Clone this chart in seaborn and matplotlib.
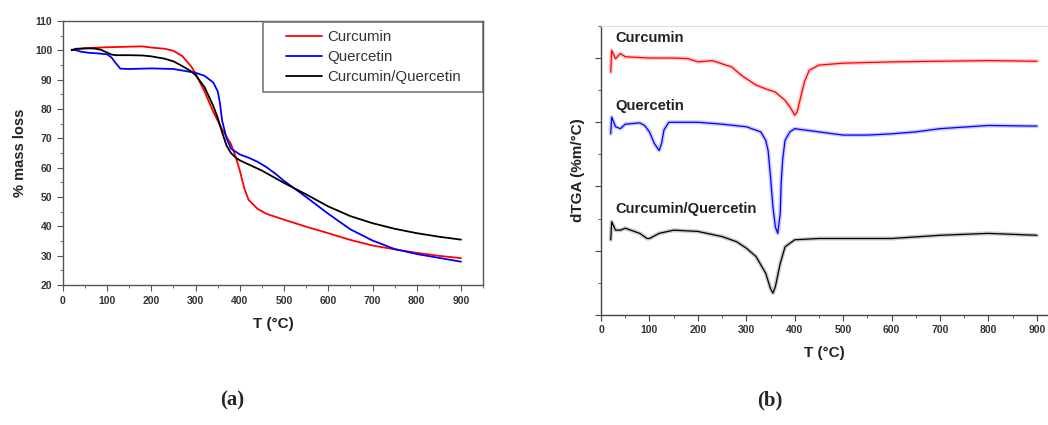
import numpy as np
import pandas as pd
import seaborn as sns
import matplotlib.pyplot as plt
from matplotlib.patches import Rectangle
from matplotlib.ticker import MultipleLocator

# --- (a) TGA curves, % mass vs temperature ---
cur_T = [20, 50, 100, 150, 180, 200, 230, 250, 270, 290, 300, 320, 340, 360, 380, 390, 400,
         410, 420, 440, 460, 500, 550, 600, 650, 700, 750, 800, 850, 900]
cur_m = [100, 100.7, 101, 101.2, 101.3, 100.9, 100.5, 99.8, 98, 94.5, 92, 86, 79, 73, 68, 64, 59,
         53, 49, 46, 44.3, 42.3, 39.9, 37.7, 35.4, 33.5, 32.2, 31, 30, 29.2]

que_T = [20, 30, 40, 60, 80, 100, 110, 120, 130, 150, 200, 250, 300, 320, 340, 350, 355, 360, 370,
         380, 390, 400, 420, 440, 460, 480, 500, 550, 600, 650, 700, 750, 800, 850, 900]
que_m = [100.2, 100, 99.5, 99.1, 98.9, 98.6, 97.5, 95.5, 93.7, 93.6, 93.8, 93.6, 92.3, 91.3, 89, 86,
         82, 76, 70, 66.5, 65.5, 64.5, 63.4, 62, 60.2, 58, 55.5, 50, 44.3, 39, 35.2, 32.3, 30.6, 29.3, 28]

mix_T = [20, 30, 50, 70, 85, 100, 110, 120, 150, 180, 200, 230, 250, 270, 290, 300, 320, 340, 350,
         360, 370, 380, 390, 400, 450, 500, 550, 600, 650, 700, 750, 800, 850, 900]
mix_m = [100, 100.5, 100.6, 100.6, 100.2, 99.2, 98.5, 98.3, 98.3, 98.2, 97.9, 97.1, 96.2, 94.6,
         92.8, 91.5, 87.5, 81, 77, 72, 67.5, 65, 63.5, 62.5, 59, 54.8, 50.9, 46.8, 43.5, 41.1, 39.2,
         37.7, 36.5, 35.5]

# --- (b) dTGA curves (arbitrary offset units) ---
dcur_T = [20, 22, 30, 40, 50, 100, 150, 180, 200, 230, 250, 270, 290, 300, 310, 320, 340, 360,
          380, 390, 400, 405, 410, 420, 430, 450, 500, 600, 700, 800, 900]
dcur_v = [3.78, 4.12, 3.99, 4.07, 4.02, 4.0, 4.0, 3.99, 3.94, 3.96, 3.91, 3.86, 3.73, 3.68, 3.63,
          3.58, 3.52, 3.47, 3.34, 3.24, 3.11, 3.16, 3.32, 3.63, 3.81, 3.89, 3.92, 3.94, 3.95, 3.96, 3.95]

dque_T = [20, 22, 30, 40, 50, 80, 90, 100, 110, 120, 125, 130, 140, 200, 250, 300, 330, 340, 345,
          350, 355, 360, 365, 370, 372, 375, 380, 390, 400, 450, 500, 550, 600, 650, 700, 800, 900]
dque_v = [2.82, 3.08, 2.93, 2.9, 2.97, 2.99, 2.95, 2.85, 2.67, 2.56, 2.67, 2.88, 3.0, 3.0, 2.97,
          2.93, 2.85, 2.72, 2.56, 2.15, 1.68, 1.37, 1.27, 1.58, 2.05, 2.41, 2.72, 2.85, 2.9, 2.85,
          2.8, 2.8, 2.82, 2.85, 2.9, 2.95, 2.94]

dmix_T = [20, 22, 30, 40, 50, 80, 95, 100, 120, 150, 200, 250, 280, 300, 320, 340, 350, 355, 360,
          370, 380, 400, 450, 500, 600, 700, 800, 900]
dmix_v = [1.17, 1.45, 1.32, 1.32, 1.35, 1.27, 1.19, 1.19, 1.27, 1.32, 1.3, 1.22, 1.14, 1.04, 0.91,
          0.65, 0.41, 0.34, 0.44, 0.80, 1.06, 1.17, 1.19, 1.19, 1.19, 1.24, 1.27, 1.24]

names = ["Curcumin", "Quercetin", "Curcumin/Quercetin"]
colors = ["#ff0000", "#0000ff", "#000000"]

sns.set_style("ticks")
plt.rcParams["font.family"] = ["Liberation Sans", "DejaVu Sans"]

fig = plt.figure(figsize=(10.48, 4.25), dpi=100)
ax1 = fig.add_axes([0.060, 0.329, 0.401, 0.622])
ax2 = fig.add_axes([0.5735, 0.259, 0.4265, 0.680])

# --- left panel ---
tga = pd.concat([
    pd.DataFrame({"T": cur_T, "m": cur_m, "sample": names[0]}),
    pd.DataFrame({"T": que_T, "m": que_m, "sample": names[1]}),
    pd.DataFrame({"T": mix_T, "m": mix_m, "sample": names[2]}),
])
sns.lineplot(data=tga, x="T", y="m", hue="sample", palette=colors, ax=ax1,
             linewidth=1.3, sort=False, estimator=None)

ax1.set_xlim(0, 950)
ax1.set_ylim(20, 110)
ax1.set_xticks(range(0, 901, 100))
ax1.xaxis.set_minor_locator(MultipleLocator(50))
ax1.yaxis.set_major_locator(MultipleLocator(10))
ax1.yaxis.set_minor_locator(MultipleLocator(5))
ax1.set_xlabel("T (°C)", fontsize=11, fontweight="bold", color="#222222", labelpad=8)
ax1.set_ylabel("% mass loss", fontsize=10.5, fontweight="bold", color="#222222", labelpad=6)
for sp in ax1.spines.values():
    sp.set_color("#555555")
    sp.set_linewidth(1.0)
ax1.tick_params(which="major", length=4, color="#555555", labelsize=7.5, labelcolor="#333333")
ax1.tick_params(which="minor", length=2.5, color="#555555")
for lab in ax1.get_xticklabels() + ax1.get_yticklabels():
    lab.set_fontweight("bold")

# legend: frameless, with its own box drawn around it
box_x, box_y, box_w, box_h = 0.476, 0.731, 0.524, 0.265
ax1.add_patch(Rectangle((box_x, box_y), box_w, box_h, transform=ax1.transAxes, fill=False,
                        edgecolor="#777777", linewidth=1.2, zorder=5))
leg = ax1.legend(title=None, loc="center", bbox_to_anchor=(box_x + box_w / 2, box_y + box_h / 2),
                 frameon=False, fontsize=10.8, handlelength=2.4, borderpad=0,
                 labelspacing=0.4, handletextpad=0.35)
for t in leg.get_texts():
    t.set_color("#333333")

# --- right panel ---
dtga = [(dcur_T, dcur_v), (dque_T, dque_v), (dmix_T, dmix_v)]
for (tt, vv), c in zip(dtga, colors):
    sns.lineplot(x=tt, y=vv, color=c, ax=ax2, linewidth=3.0, alpha=0.2, sort=False, estimator=None)
    sns.lineplot(x=tt, y=vv, color=c, ax=ax2, linewidth=0.9, sort=False, estimator=None)

label_pos = [(29, 4.25), (29, 3.19), (29, 1.59)]
for (lx, ly), n in zip(label_pos, names):
    ax2.text(lx, ly, n, fontsize=10.6, fontweight="bold", color="#222222", ha="left", va="baseline")

ax2.set_xlim(0, 923)
ax2.set_ylim(0, 4.5)
ax2.set_xticks(range(0, 901, 100))
ax2.xaxis.set_minor_locator(MultipleLocator(50))
ax2.yaxis.set_major_locator(MultipleLocator(1))
ax2.yaxis.set_minor_locator(MultipleLocator(0.5))
ax2.set_yticklabels([])
ax2.set_xlabel("T (°C)", fontsize=11, fontweight="bold", color="#222222", labelpad=8)
ax2.set_ylabel("dTGA (%m/°C)", fontsize=11, fontweight="bold", color="#222222", labelpad=4)
ax2.spines["right"].set_visible(False)
ax2.spines["top"].set_color("#dddddd")
for s in ["left", "bottom"]:
    ax2.spines[s].set_color("#444444")
    ax2.spines[s].set_linewidth(1.0)
ax2.tick_params(which="major", length=4, color="#444444", labelsize=7.5, labelcolor="#333333")
ax2.tick_params(which="minor", length=2.5, color="#444444")
for lab in ax2.get_xticklabels():
    lab.set_fontweight("bold")

fig.text(0.2215, 0.035, "(a)", fontsize=15, fontweight="bold", family="Liberation Serif",
         ha="center", va="bottom")
fig.text(0.735, 0.035, "(b)", fontsize=15, fontweight="bold", family="Liberation Serif",
         ha="center", va="bottom")

fig.savefig("out.png", dpi=100)
